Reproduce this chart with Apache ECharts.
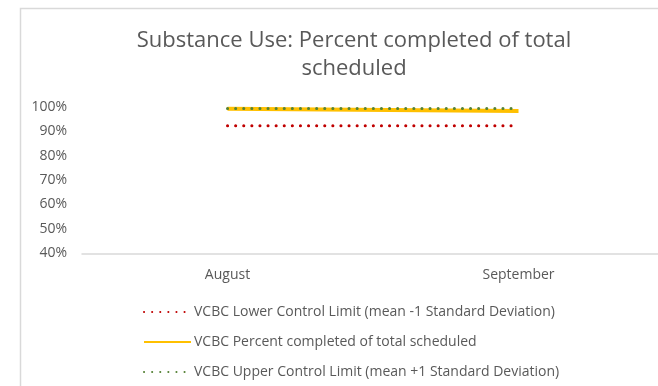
<!DOCTYPE html>
<html>
<head>
<meta charset="utf-8">
<style>
  html, body { margin: 0; padding: 0; background: #fff; overflow: hidden; }
  #chart { width: 664px; height: 386px; }
</style>
<script src="https://cdn.jsdelivr.net/npm/echarts@6/dist/echarts.min.js"></script>
</head>
<body>
<div id="chart"></div>
<script>
// Monthly control-chart data (fractions of 1)
const months = ['August', 'September'];
const lowerLimit = [0.922, 0.922];
const percentCompleted = [0.992, 0.982];
const upperLimit = [0.993, 0.993];
const yTicks = [0.4, 0.5, 0.6, 0.7, 0.8, 0.9, 1.0];

const seriesNames = [
  'VCBC Lower Control Limit (mean -1 Standard Deviation)',
  'VCBC Percent completed of total scheduled',
  'VCBC Upper Control Limit (mean +1 Standard Deviation)'
];

const FONT = '"Open Sans", "Noto Sans", sans-serif';
const TEXT = '#595959';

const chart = echarts.init(document.getElementById('chart'), null, { renderer: 'canvas' });

const dotted = [0.1, 8];

chart.setOption({
  animation: false,
  backgroundColor: '#fff',
  title: {
    text: 'Substance Use: Percent completed of total\nscheduled',
    left: 349,
    top: 22,
    textAlign: 'center',
    textStyle: {
      fontFamily: FONT,
      fontSize: 22,
      fontWeight: 'normal',
      color: TEXT,
      lineHeight: 28
    }
  },
  graphic: [
    {
      type: 'polyline',
      shape: { points: [[20.5, 400], [20.5, 8.5], [700, 8.5]] },
      style: { stroke: '#d9d9d9', lineWidth: 1.5, fill: null },
      silent: true
    }
  ],
  legend: {
    orient: 'vertical',
    left: 138,
    top: 300,
    itemGap: 16,
    itemWidth: 47,
    itemHeight: 8,
    data: seriesNames,
    itemStyle: { opacity: 0 },
    textStyle: { fontFamily: FONT, fontSize: 14, color: TEXT, padding: [0, 0, 0, -2] }
  },
  grid: { left: 82, right: 0, top: 106.7, bottom: 132.7 },
  xAxis: {
    type: 'category',
    data: months,
    boundaryGap: true,
    axisLine: { lineStyle: { color: '#d9d9d9', width: 1.5 } },
    axisTick: { show: false },
    axisLabel: { fontFamily: FONT, fontSize: 14, color: TEXT, margin: 15 }
  },
  yAxis: {
    type: 'value',
    min: yTicks[0],
    max: yTicks[yTicks.length - 1],
    interval: 0.1,
    axisLine: { show: false },
    axisTick: { show: false },
    splitLine: { show: false },
    axisLabel: {
      fontFamily: FONT,
      fontSize: 14,
      color: TEXT,
      margin: 15,
      formatter: v => Math.round(v * 100) + '%'
    }
  },
  series: [
    {
      name: seriesNames[0],
      type: 'line',
      data: lowerLimit,
      symbol: 'none',
      lineStyle: { color: '#c00000', width: 3, type: dotted, cap: 'round' },
      itemStyle: { color: '#c00000' }
    },
    {
      name: seriesNames[1],
      type: 'line',
      data: percentCompleted,
      symbol: 'none',
      lineStyle: { color: '#ffc000', width: 4 },
      itemStyle: { color: '#ffc000' }
    },
    {
      name: seriesNames[2],
      type: 'line',
      data: upperLimit,
      symbol: 'none',
      lineStyle: { color: '#548235', width: 3, type: dotted, cap: 'round' },
      itemStyle: { color: '#548235' }
    }
  ]
});
</script>
</body>
</html>
